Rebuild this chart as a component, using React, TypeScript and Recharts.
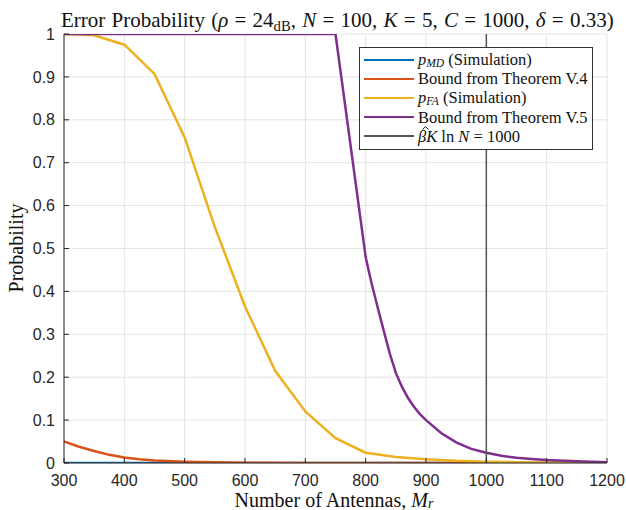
import React from "react";
import { LineChart, Line, XAxis, YAxis, CartesianGrid, ReferenceLine, Legend } from "recharts";

const xTicks = [300, 400, 500, 600, 700, 800, 900, 1000, 1100, 1200];
const yTicks = [0, 0.1, 0.2, 0.3, 0.4, 0.5, 0.6, 0.7, 0.8, 0.9, 1];

const pmdSim = [
  { x: 300, y: 0 }, { x: 400, y: 0 }, { x: 500, y: 0 }, { x: 600, y: 0 }, { x: 700, y: 0 },
  { x: 800, y: 0 }, { x: 900, y: 0 }, { x: 1000, y: 0 }, { x: 1100, y: 0 }, { x: 1200, y: 0 },
];

const boundV4 = [
  { x: 300, y: 0.05 }, { x: 325, y: 0.038 }, { x: 350, y: 0.028 }, { x: 375, y: 0.019 },
  { x: 400, y: 0.013 }, { x: 425, y: 0.009 }, { x: 450, y: 0.006 }, { x: 500, y: 0.003 },
  { x: 550, y: 0.0015 }, { x: 600, y: 0.0007 }, { x: 700, y: 0.0002 }, { x: 800, y: 0.0001 },
  { x: 1000, y: 0 }, { x: 1200, y: 0 },
];

const pfaSim = [
  { x: 300, y: 1.0 }, { x: 350, y: 0.997 }, { x: 400, y: 0.975 }, { x: 450, y: 0.907 },
  { x: 500, y: 0.759 }, { x: 550, y: 0.55 }, { x: 600, y: 0.365 }, { x: 650, y: 0.215 },
  { x: 700, y: 0.12 }, { x: 750, y: 0.058 }, { x: 800, y: 0.024 }, { x: 850, y: 0.014 },
  { x: 900, y: 0.0086 }, { x: 950, y: 0.005 }, { x: 1000, y: 0.003 }, { x: 1050, y: 0.002 },
  { x: 1100, y: 0.001 }, { x: 1150, y: 0.0005 }, { x: 1200, y: 0 },
];

const boundV5 = [
  { x: 300, y: 1 }, { x: 400, y: 1 }, { x: 500, y: 1 }, { x: 600, y: 1 }, { x: 700, y: 1 },
  { x: 750, y: 1 }, { x: 800, y: 0.48 }, { x: 805, y: 0.448 }, { x: 810, y: 0.418 },
  { x: 815, y: 0.39 }, { x: 820, y: 0.362 }, { x: 830, y: 0.308 }, { x: 840, y: 0.255 },
  { x: 850, y: 0.21 }, { x: 860, y: 0.178 }, { x: 870, y: 0.152 }, { x: 880, y: 0.131 },
  { x: 890, y: 0.114 }, { x: 900, y: 0.1 }, { x: 925, y: 0.07 }, { x: 950, y: 0.048 },
  { x: 975, y: 0.033 }, { x: 1000, y: 0.024 }, { x: 1025, y: 0.017 }, { x: 1050, y: 0.012 },
  { x: 1075, y: 0.0095 }, { x: 1100, y: 0.007 }, { x: 1150, y: 0.004 }, { x: 1200, y: 0.002 },
];

const thresholdX = 1000;

const C_BLUE = "#0072BD";
const C_ORANGE = "#D95319";
const C_YELLOW = "#EDB120";
const C_PURPLE = "#7E2F8E";
const C_GRAY = "#555555";

const serif = "'Liberation Serif', 'Times New Roman', serif";
const sans = "'Liberation Sans', Arial, sans-serif";

const subStyle: React.CSSProperties = { fontSize: "0.7em", fontStyle: "italic", verticalAlign: "-0.2em", lineHeight: 0 };
const subStyleLow: React.CSSProperties = { fontSize: "0.7em", fontStyle: "italic", verticalAlign: "-0.1em", lineHeight: 0 };

const BetaHat = () => (
  <span style={{ position: "relative", display: "inline-block", fontStyle: "italic", lineHeight: 1 }}>
    β
    <svg
      width="7"
      height="4"
      viewBox="0 0 7 4"
      style={{ position: "absolute", left: 4, top: -3 }}
    >
      <polyline points="0.5,3.5 3.5,0.7 6.5,3.5" fill="none" stroke="#111" strokeWidth={1} />
    </svg>
  </span>
);

const legendItems = [
  { color: C_BLUE, label: <span><i>p</i><span style={subStyle}>MD</span> (Simulation)</span> },
  { color: C_ORANGE, label: <span>Bound from Theorem V.4</span> },
  { color: C_YELLOW, label: <span><i>p</i><span style={subStyle}>FA</span> (Simulation)</span> },
  { color: C_PURPLE, label: <span>Bound from Theorem V.5</span> },
  { color: C_GRAY, label: <span><BetaHat /><i>K</i> ln <i>N</i> = 1000</span> },
];

const LegendBox = () => (
  <div
    style={{
      border: "1px solid #333",
      background: "#fff",
      fontFamily: serif,
      fontSize: 16.5,
      color: "#111",
      padding: "2px 4px 3px 4px",
      width: 234,
      boxSizing: "border-box",
    }}
  >
    {legendItems.map((it, i) => (
      <div key={i} style={{ display: "flex", alignItems: "center", height: 19.2, whiteSpace: "nowrap" }}>
        <div style={{ width: 50, height: 0, borderTop: `${i === 4 ? 2 : 2.5}px solid ${it.color}`, marginRight: 4 }} />
        <div style={{ lineHeight: "19px" }}>{it.label}</div>
      </div>
    ))}
  </div>
);

export default function App() {
  return (
    <div style={{ position: "absolute", left: 0, top: 0, width: 626, height: 510, background: "#fff" }}>
      <LineChart
        width={626}
        height={510}
        margin={{ top: 34, right: 19, bottom: 17, left: 0 }}
      >
        <CartesianGrid stroke="#e3e3e3" strokeWidth={1} />
        <XAxis
          type="number"
          dataKey="x"
          domain={[300, 1200]}
          ticks={xTicks}
          allowDataOverflow
          height={30}
          tickSize={-5}
          tickMargin={17}
          stroke="#262626"
          tick={{ fill: "#262626", fontFamily: sans, fontSize: 16 }}
        />
        <YAxis
          type="number"
          dataKey="y"
          domain={[0, 1]}
          ticks={yTicks}
          allowDataOverflow
          width={64}
          tickSize={-5}
          tickMargin={14}
          stroke="#262626"
          tick={{ fill: "#262626", fontFamily: sans, fontSize: 16 }}
        />
        <Line data={pmdSim} dataKey="y" type="linear" stroke={C_BLUE} strokeWidth={2.5} dot={false} isAnimationActive={false} />
        <Line data={boundV4} dataKey="y" type="linear" stroke={C_ORANGE} strokeWidth={2.5} dot={false} isAnimationActive={false} />
        <Line data={pfaSim} dataKey="y" type="linear" stroke={C_YELLOW} strokeWidth={2.5} dot={false} isAnimationActive={false} />
        <Line data={boundV5} dataKey="y" type="linear" stroke={C_PURPLE} strokeWidth={2.5} dot={false} isAnimationActive={false} />
        <ReferenceLine x={thresholdX} stroke={C_GRAY} strokeWidth={1.5} />
        <Legend
          layout="horizontal"
          verticalAlign="middle"
          align="center"
          content={() => <LegendBox />}
          wrapperStyle={{ position: "absolute", left: 359, top: 47, width: 234, height: 100 }}
        />
      </LineChart>
      <div
        style={{
          position: "absolute",
          left: 61,
          top: 10,
          fontFamily: serif,
          fontSize: 21,
          lineHeight: 1,
          wordSpacing: 1,
          color: "#111",
          whiteSpace: "nowrap",
        }}
      >
        Error Probability (<i>ρ</i> = 24<span style={{ fontSize: "0.7em", verticalAlign: "-0.25em", lineHeight: 0 }}>dB</span>, <i>N</i> = 100, <i>K</i> = 5,{" "}
        <i>C</i> = 1000, <i>δ</i> = 0.33)
      </div>
      <div
        style={{
          position: "absolute",
          left: 16,
          top: 248,
          transform: "translate(-50%, -50%) rotate(-90deg)",
          fontFamily: serif,
          fontSize: 20,
          lineHeight: 1.15,
          color: "#111",
          whiteSpace: "nowrap",
        }}
      >
        Probability
      </div>
      <div
        style={{
          position: "absolute",
          left: 334,
          top: 490,
          transform: "translateX(-50%)",
          fontFamily: serif,
          fontSize: 20,
          lineHeight: 1,
          color: "#111",
          whiteSpace: "nowrap",
        }}
      >
        Number of Antennas, <i>M</i>
        <span style={subStyleLow}>r</span>
      </div>
    </div>
  );
}
